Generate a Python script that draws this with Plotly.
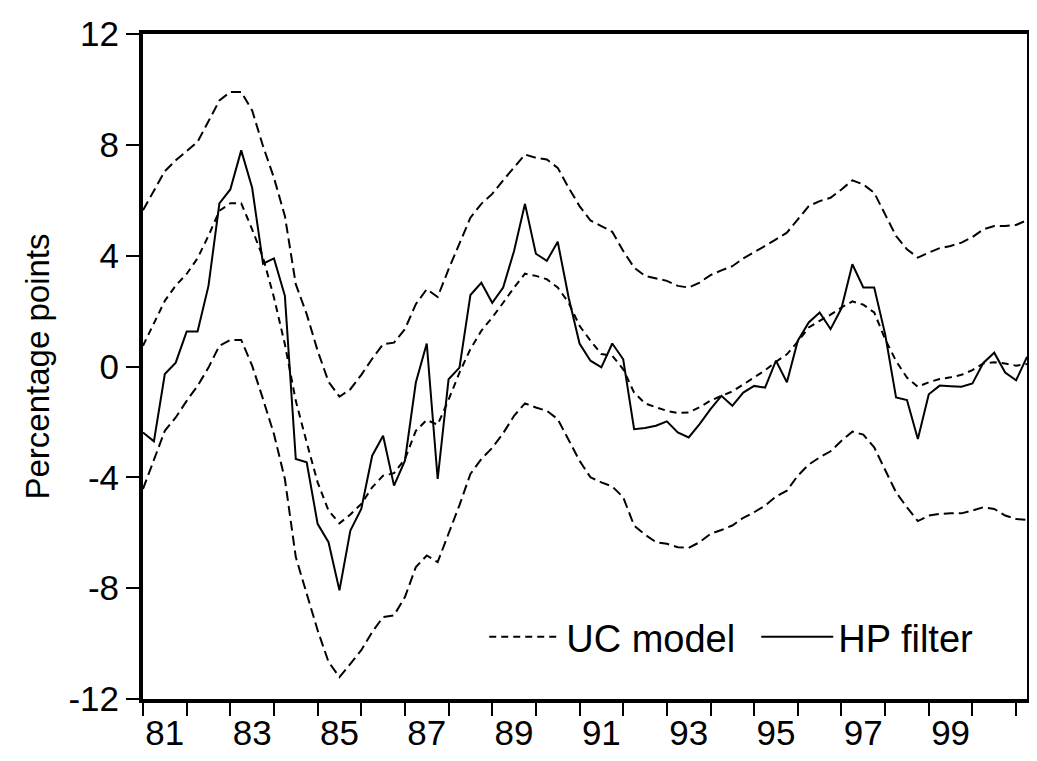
import numpy as np
import plotly.graph_objects as go

# quarterly observations 1981Q1 .. 2001Q2
quarters = 1981 + 0.25 * np.arange(82)

hp_filter = [-2.38, -2.7, -0.27, 0.14, 1.26, 1.26, 2.91, 5.89, 6.39, 7.8,
             6.45, 3.71, 3.9, 2.55, -3.34, -3.46, -5.68, -6.34, -8.08, -5.92,
             -5.14, -3.22, -2.5, -4.3, -3.4, -0.58, 0.83, -4.06, -0.46, -0.04,
             2.58, 3.02, 2.3, 2.85, 4.17, 5.87, 4.07, 3.81, 4.5, 2.49,
             0.83, 0.21, -0.03, 0.83, 0.26, -2.26, -2.22, -2.14, -1.98, -2.38,
             -2.56, -2.08, -1.54, -1.06, -1.42, -0.94, -0.7, -0.76, 0.21, -0.57,
             0.93, 1.59, 1.95, 1.35, 2.1, 3.69, 2.85, 2.85, 1.17, -1.12,
             -1.21, -2.62, -1.0, -0.69, -0.71, -0.73, -0.61, 0.13, 0.5, -0.22,
             -0.5, 0.35]

uc_model = [0.75, 1.59, 2.37, 2.92, 3.34, 3.91, 4.72, 5.62, 5.89, 5.89,
            4.95, 3.93, 2.49, 0.8, -1.24, -2.74, -4.18, -5.2, -5.66, -5.34,
            -4.96, -4.36, -3.94, -3.85, -3.34, -2.32, -1.93, -2.1, -1.2, -0.22,
            0.63, 1.29, 1.77, 2.3, 2.85, 3.35, 3.27, 3.15, 2.85, 2.3,
            1.47, 0.93, 0.45, 0.39, -0.1, -0.94, -1.33, -1.47, -1.6, -1.68,
            -1.66, -1.47, -1.23, -1.06, -0.9, -0.65, -0.4, -0.14, 0.17, 0.44,
            0.9, 1.41, 1.65, 1.87, 2.13, 2.35, 2.23, 1.95, 0.99, 0.2,
            -0.4, -0.73, -0.57, -0.45, -0.39, -0.3, -0.13, 0.11, 0.15, 0.11,
            0.03, 0.09]

uc_upper = [5.64, 6.32, 7.05, 7.44, 7.77, 8.11, 8.85, 9.6, 9.91, 9.91,
            9.24, 7.95, 6.81, 5.43, 2.97, 1.89, 0.57, -0.55, -1.09, -0.82,
            -0.3, 0.28, 0.81, 0.86, 1.35, 2.25, 2.79, 2.51, 3.51, 4.41,
            5.37, 5.87, 6.23, 6.72, 7.17, 7.65, 7.53, 7.47, 7.17, 6.45,
            5.79, 5.27, 5.07, 4.86, 4.17, 3.57, 3.27, 3.18, 3.09, 2.91,
            2.85, 3.03, 3.3, 3.47, 3.62, 3.9, 4.11, 4.35, 4.59, 4.83,
            5.31, 5.79, 5.97, 6.09, 6.39, 6.72, 6.57, 6.27, 5.49, 4.71,
            4.23, 3.93, 4.11, 4.27, 4.35, 4.47, 4.67, 4.95, 5.07, 5.07,
            5.11, 5.28]

uc_lower = [-4.42, -3.4, -2.32, -1.84, -1.24, -0.7, -0.04, 0.75, 0.96, 0.96,
            0.03, -1.18, -2.44, -4.06, -6.88, -8.2, -9.52, -10.66, -11.21, -10.73,
            -10.24, -9.58, -9.04, -8.98, -8.32, -7.24, -6.82, -7.06, -6.04, -5.0,
            -3.88, -3.34, -2.94, -2.41, -1.78, -1.33, -1.48, -1.6, -1.9, -2.68,
            -3.4, -4.0, -4.18, -4.33, -4.72, -5.74, -6.07, -6.34, -6.4, -6.52,
            -6.55, -6.34, -6.04, -5.9, -5.74, -5.46, -5.26, -5.02, -4.69, -4.48,
            -3.94, -3.54, -3.28, -3.06, -2.68, -2.35, -2.46, -2.92, -3.7, -4.54,
            -5.08, -5.58, -5.38, -5.32, -5.3, -5.3, -5.2, -5.08, -5.14, -5.38,
            -5.5, -5.54]

year_ticks = list(range(1981, 2002))
label_pos = [y + 0.5 for y in range(1981, 2000, 2)]
label_text = ["81", "83", "85", "87", "89", "91", "93", "95", "97", "99"]
y_ticks = [-12, -8, -4, 0, 4, 8, 12]
y_text = ["-12", "-8", "-4", "0", "4", "8", "12"]

font = "Liberation Sans, Arial, sans-serif"

fig = go.Figure()

fig.add_trace(go.Scatter(x=quarters, y=uc_upper, mode="lines", showlegend=False,
                         line=dict(color="black", width=2, dash="10px,5px")))
fig.add_trace(go.Scatter(x=quarters, y=uc_lower, mode="lines", showlegend=False,
                         line=dict(color="black", width=2, dash="10px,5px")))
fig.add_trace(go.Scatter(x=quarters, y=uc_model, mode="lines", name="UC model",
                         legendwidth=185,
                         line=dict(color="black", width=2, dash="7px,5px")))
fig.add_trace(go.Scatter(x=quarters, y=hp_filter, mode="lines", name="HP filter",
                         line=dict(color="black", width=2)))

# page body has an 8px margin, so the figure is sized/offset for that
fig.update_layout(
    width=1029, height=753,
    margin=dict(l=135, r=6, t=25, b=62),
    plot_bgcolor="white", paper_bgcolor="white",
    font=dict(family=font, color="black", size=34),
    showlegend=True,
    legend=dict(orientation="h", x=0.386, xanchor="left", y=0.093, yanchor="middle",
                font=dict(size=38), bgcolor="rgba(0,0,0,0)", itemwidth=72,
                traceorder="normal"),
    xaxis=dict(range=[1981, 2001.25], showgrid=False, zeroline=False,
               showline=True, linecolor="black", linewidth=4, mirror=True,
               tickmode="array", tickvals=label_pos, ticktext=label_text, ticks="",
               tickfont=dict(size=35),
               minor=dict(tickmode="array", tickvals=year_ticks, ticks="outside",
                          ticklen=13, tickwidth=2, tickcolor="black", showgrid=False)),
    yaxis=dict(range=[-12, 12], showgrid=False, zeroline=False,
               showline=True, linecolor="black", linewidth=4, mirror=True,
               tickmode="array", tickvals=y_ticks, ticktext=y_text, ticks="outside",
               ticklen=13, tickwidth=2, tickcolor="black",
               tickfont=dict(size=35),
               title=dict(text="Percentage points", font=dict(size=33), standoff=10)),
)

fig.write_html("out.html")
